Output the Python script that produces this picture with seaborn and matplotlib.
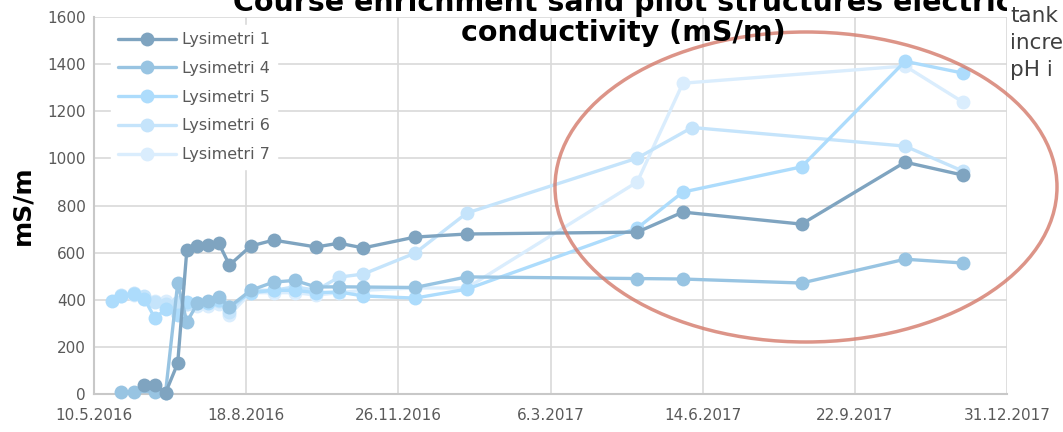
import pandas as pd
import numpy as np
import seaborn as sns
import matplotlib
matplotlib.use("Agg")
import matplotlib.pyplot as plt
from matplotlib.patches import Ellipse

# Sampling dates (d.m.yyyy) and EC values, mS/m
l1_dates = ["12.6.2016", "19.6.2016", "26.6.2016", "4.7.2016", "10.7.2016", "17.7.2016",
            "24.7.2016", "31.7.2016", "7.8.2016", "21.8.2016", "5.9.2016", "3.10.2016",
            "18.10.2016", "3.11.2016", "7.12.2016", "10.1.2017", "2.5.2017", "1.6.2017",
            "18.8.2017", "25.10.2017", "2.12.2017"]
l1_vals = [40, 40, 5, 130, 610, 628, 632, 640, 547, 628, 653, 624, 640, 620, 666, 679,
           687, 772, 721, 984, 929]

l4_dates = ["28.5.2016", "5.6.2016", "19.6.2016", "26.6.2016", "4.7.2016", "10.7.2016",
            "17.7.2016", "24.7.2016", "31.7.2016", "7.8.2016", "21.8.2016", "5.9.2016",
            "19.9.2016", "3.10.2016", "18.10.2016", "3.11.2016", "7.12.2016", "10.1.2017",
            "2.5.2017", "1.6.2017", "18.8.2017", "25.10.2017", "2.12.2017"]
l4_vals = [10, 10, 10, 5, 470, 305, 385, 395, 410, 370, 440, 475, 482, 454, 455, 454,
           452, 497, 490, 488, 471, 572, 556]

l5_dates = ["22.5.2016", "28.5.2016", "5.6.2016", "12.6.2016", "19.6.2016", "26.6.2016",
            "4.7.2016", "10.7.2016", "17.7.2016", "24.7.2016", "31.7.2016", "7.8.2016",
            "21.8.2016", "5.9.2016", "19.9.2016", "3.10.2016", "18.10.2016", "3.11.2016",
            "7.12.2016", "10.1.2017", "2.5.2017", "1.6.2017", "18.8.2017", "25.10.2017",
            "2.12.2017"]
l5_vals = [396, 415, 425, 405, 322, 360, 335, 390, 385, 385, 400, 370, 430, 440, 440,
           430, 433, 416, 407, 445, 704, 857, 964, 1412, 1362]

l6_dates = ["28.5.2016", "5.6.2016", "12.6.2016", "19.6.2016", "26.6.2016", "4.7.2016",
            "10.7.2016", "17.7.2016", "24.7.2016", "31.7.2016", "7.8.2016", "21.8.2016",
            "5.9.2016", "19.9.2016", "3.10.2016", "18.10.2016", "3.11.2016", "7.12.2016",
            "10.1.2017", "2.5.2017", "7.6.2017", "25.10.2017", "2.12.2017"]
l6_vals = [420, 430, 415, 390, 380, 390, 380, 385, 390, 395, 350, 440, 440, 455, 440,
           496, 509, 598, 768, 1001, 1131, 1052, 946]

l7_dates = ["28.5.2016", "5.6.2016", "12.6.2016", "19.6.2016", "26.6.2016", "4.7.2016",
            "10.7.2016", "17.7.2016", "24.7.2016", "31.7.2016", "7.8.2016", "21.8.2016",
            "5.9.2016", "19.9.2016", "3.10.2016", "18.10.2016", "3.11.2016", "7.12.2016",
            "10.1.2017", "2.5.2017", "1.6.2017", "25.10.2017", "2.12.2017"]
l7_vals = [415, 420, 405, 395, 395, 385, 380, 375, 375, 380, 335, 430, 430, 430, 420,
           430, 440, 450, 450, 900, 1319, 1392, 1239]

series_names = ["Lysimetri 1", "Lysimetri 4", "Lysimetri 5", "Lysimetri 6", "Lysimetri 7"]
series_colors = ["#7fa4c0", "#98c4e2", "#addcfc", "#c5e4fb", "#daedfd"]


def build_frame():
    parts = []
    for name, d, v in zip(series_names,
                          [l1_dates, l4_dates, l5_dates, l6_dates, l7_dates],
                          [l1_vals, l4_vals, l5_vals, l6_vals, l7_vals]):
        parts.append(pd.DataFrame({"date": pd.to_datetime(d, format="%d.%m.%Y"),
                                   "ec": v, "series": name}))
    return pd.concat(parts, ignore_index=True)


if __name__ == '__main__':

    df = build_frame()

    sns.set_theme(style="whitegrid")
    plt.rcParams["font.family"] = ["DejaVu Sans"]

    fig = plt.figure(figsize=(10.63, 4.32), dpi=100)
    ax = fig.add_axes([94 / 1063, 1 - 394 / 432, 913 / 1063, 377 / 432])

    # draw series in reverse so Lysimetri 1 sits on top
    for name, color in reversed(list(zip(series_names, series_colors))):
        sub = df[df.series == name]
        sns.lineplot(data=sub, x="date", y="ec", ax=ax, color=color, marker="o",
                     markersize=10, markeredgewidth=0, linewidth=2.4,
                     estimator=None, sort=False, label=name, clip_on=False, zorder=3)

    ax.set_ylim(0, 1600)
    ax.set_yticks(np.arange(0, 1601, 200))
    start = pd.Timestamp("2016-05-10")
    xt = [start + pd.Timedelta(days=100 * i) for i in range(7)]
    ax.set_xlim(xt[0], xt[-1])
    ax.set_xticks(xt)
    ax.set_xticklabels([f"{t.day}.{t.month}.{t.year}" for t in xt])
    ax.tick_params(axis="y", colors="#595959", labelsize=11, length=0, pad=6)
    ax.tick_params(axis="x", colors="#595959", labelsize=11, length=0, pad=10)
    ax.grid(True, color="#d9d9d9", linewidth=1.2)
    for side in ["top", "right"]:
        ax.spines[side].set_visible(False)
    for side in ["left", "bottom"]:
        ax.spines[side].set_color("#c8c8c8")
        ax.spines[side].set_linewidth(1.5)
    ax.set_xlabel("")
    ax.set_ylabel("mS/m", fontsize=18, fontweight="bold", color="black")
    ax.yaxis.set_label_coords(-0.065, 0.5)

    handles, labels = ax.get_legend_handles_labels()
    order = [labels.index(n) for n in series_names]
    leg = ax.legend([handles[i] for i in order], series_names, loc="upper left",
                    bbox_to_anchor=(0.01, 1.0), fontsize=11.5, frameon=True,
                    framealpha=1, facecolor="white", edgecolor="white",
                    handlelength=3.6, handletextpad=0.4, labelspacing=0.86,
                    borderpad=0.45)
    for t in leg.get_texts():
        t.set_color("#595959")

    fig.text(623 / 1063, 1 - 47 / 432,
             "Course enrichment sand pilot structures electric\nconductivity (mS/m)",
             ha="center", va="bottom", fontsize=20.5, fontweight="bold", color="black",
             multialignment="center", linespacing=1.1)
    fig.text(1010 / 1063, 1 - 80 / 432, "tank\nincre\npH i", ha="left", va="bottom",
             fontsize=15.5, color="#404040", linespacing=1.45,
             bbox=dict(facecolor="white", edgecolor="none", pad=2))

    fig.add_artist(Ellipse((806 / 1063, 1 - 187 / 432), 502 / 1063, 310 / 432,
                           transform=fig.transFigure, fill=False,
                           edgecolor="#d47a6a", alpha=0.8, linewidth=2.5))

    fig.savefig("out.png", dpi=100)
